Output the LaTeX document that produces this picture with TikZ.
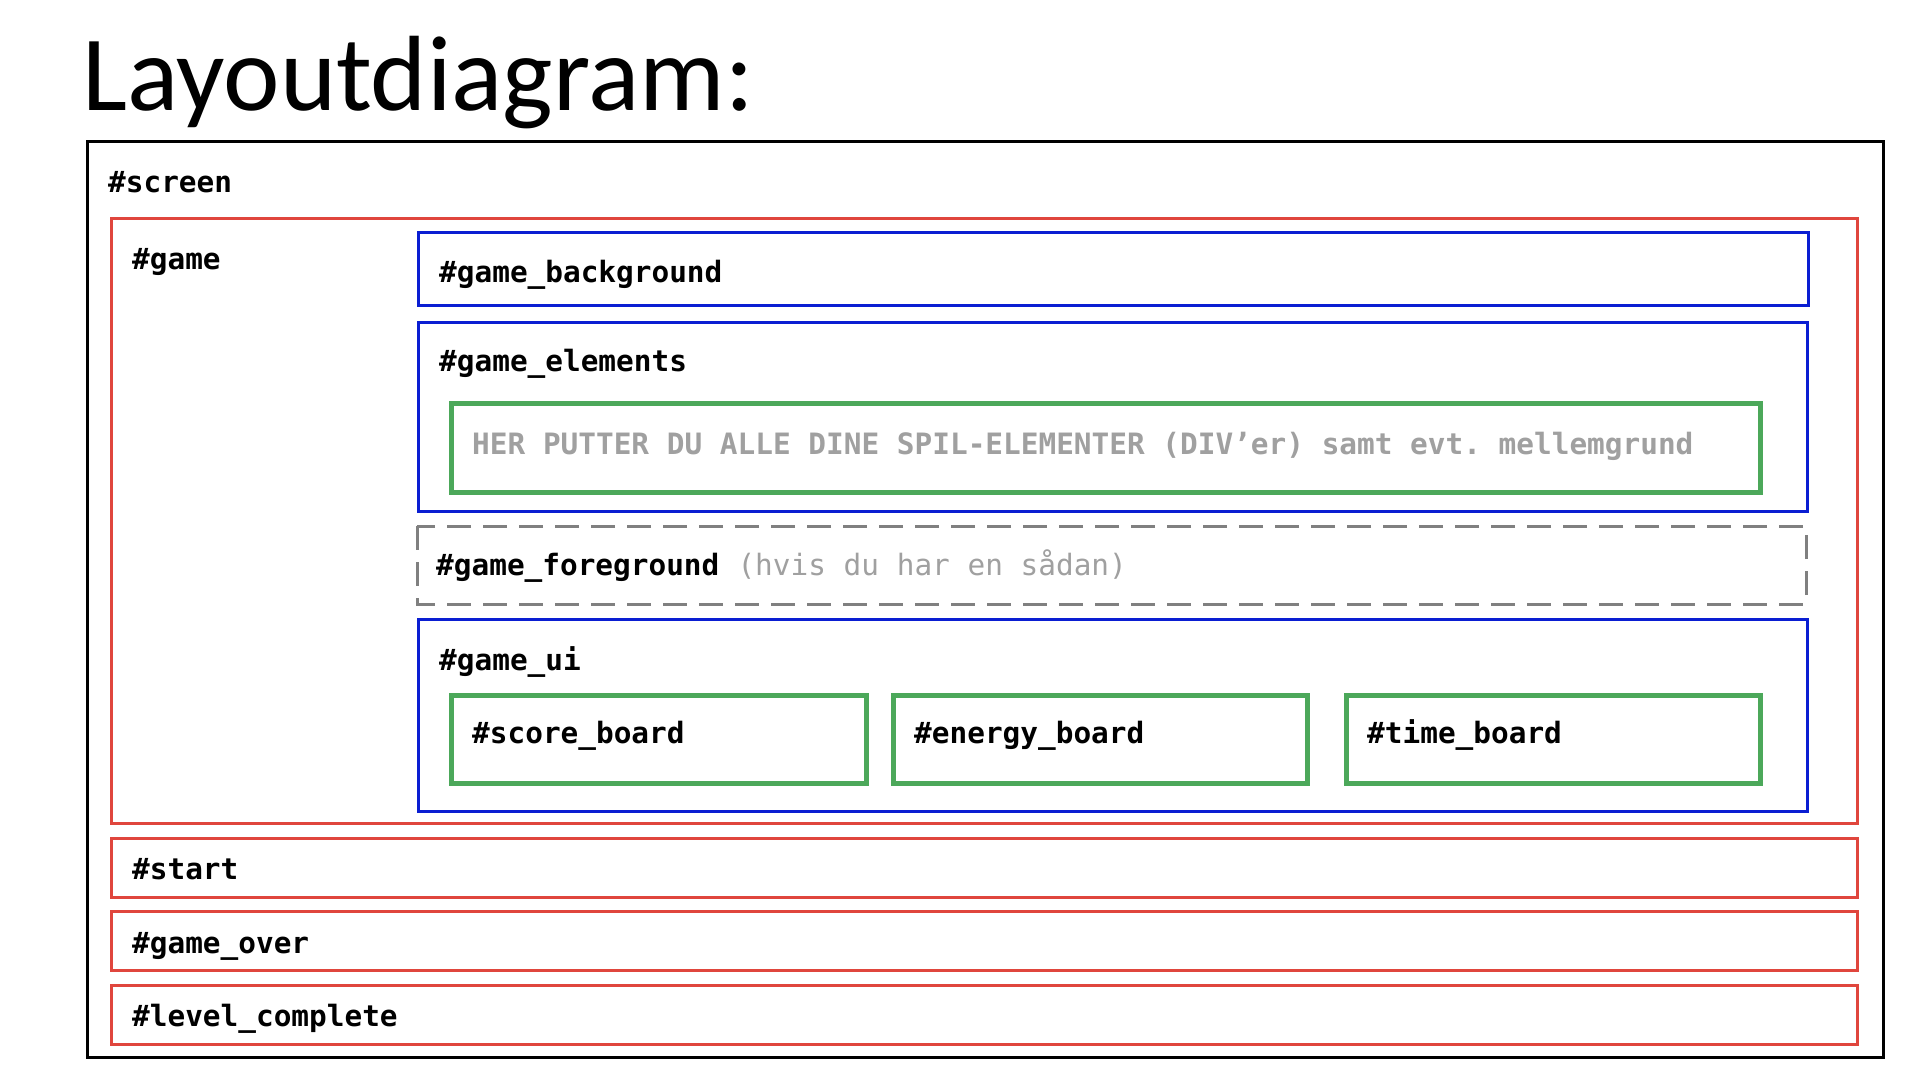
\documentclass[tikz,border=0pt]{standalone}
\usepackage{fontspec}
\setmainfont{Carlito}
\newfontfamily\monob{DejaVu Sans Mono}
\definecolor{boxred}{HTML}{E0463D}
\definecolor{boxblue}{HTML}{0A1ED2}
\definecolor{boxgreen}{HTML}{4CA85A}
\definecolor{dashgray}{HTML}{808080}
\definecolor{txtgray}{HTML}{A0A0A0}
\tikzset{
  screenbox/.style={draw=black, line width=3pt},
  redbox/.style={draw=boxred, line width=3pt},
  bluebox/.style={draw=boxblue, line width=3pt},
  greenbox/.style={draw=boxgreen, line width=5pt},
  dashbox/.style={draw=dashgray, line width=3pt, dash pattern=on 24pt off 12pt},
  lbl/.style={anchor=base west, inner sep=0pt, yshift=-2pt, font=\monob\fontsize{29.4}{30}\selectfont\bfseries\frenchspacing},
  greylbl/.style={lbl, text=txtgray},
}
\begin{document}
\begin{tikzpicture}[x=1pt,y=-1pt]
\useasboundingbox (0,0) rectangle (1921,1080);
\fill[white] (0,0) rectangle (1921,1080);
% title
\node[anchor=base west, inner sep=0pt, font=\fontsize{107}{112}\selectfont] (title) at (82,110) {Layoutdiagram:};
% boxes
\draw[screenbox] (87,141) rectangle (1883,1057);
\draw[redbox] (111.5,218) rectangle (1857,823);
\draw[bluebox] (418,232) rectangle (1808,305);
\draw[bluebox] (418,322) rectangle (1807,511);
\draw[greenbox] (451,403) rectangle (1760,492);
\draw[dashbox] (417,526) rectangle (1806,604);
\draw[bluebox] (418,619) rectangle (1807,811);
\draw[greenbox] (451,695) rectangle (866,783);
\draw[greenbox] (893,695) rectangle (1307,783);
\draw[greenbox] (1346,695) rectangle (1760,783);
\draw[redbox] (111.5,838) rectangle (1857,897);
\draw[redbox] (111.5,911) rectangle (1857,970);
\draw[redbox] (111.5,985) rectangle (1857,1044);
% labels
\node[lbl] (screen) at (108,190) {\#screen};
\node[lbl] (game) at (132,267) {\#game};
\node[lbl] (gbg) at (439,280.5) {\#game\_background};
\node[lbl] (gel) at (439,369) {\#game\_elements};
\node[greylbl] (her) at (472,452) {HER PUTTER DU ALLE DINE SPIL-ELEMENTER (DIV’er) samt evt. mellemgrund};
\node[lbl] (gfg) at (436,573) {\#game\_foreground};
\node[greylbl, font=\monob\fontsize{29.4}{30}\selectfont, anchor=base west, yshift=2pt] (hvis) at (gfg.base east) {\ (hvis du har en sådan)};
\node[lbl] (gui) at (439,668) {\#game\_ui};
\node[lbl] (score) at (472,741) {\#score\_board};
\node[lbl] (energy) at (914,741) {\#energy\_board};
\node[lbl] (time) at (1367,741) {\#time\_board};
\node[lbl] (start) at (132,877) {\#start};
\node[lbl] (gover) at (132,951) {\#game\_over};
\node[lbl] (lvl) at (132,1024) {\#level\_complete};
\end{tikzpicture}
\end{document}
